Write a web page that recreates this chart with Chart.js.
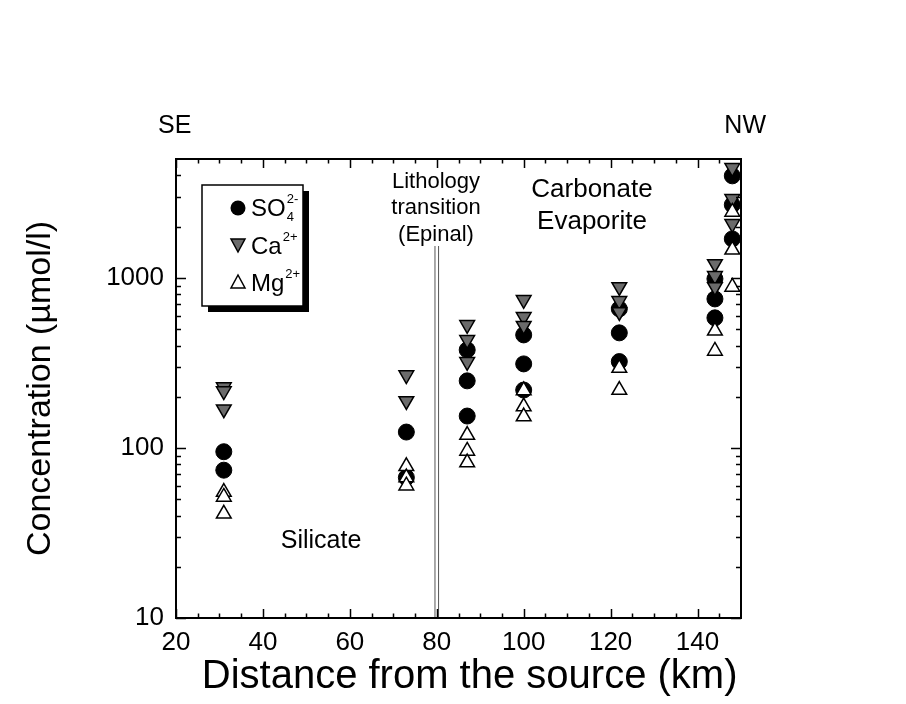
<!DOCTYPE html>
<html>
<head>
<meta charset="utf-8">
<script src="https://cdn.jsdelivr.net/npm/chart.js@4/dist/chart.umd.min.js"></script>
<style>
html,body{margin:0;padding:0;background:#ffffff;}
#wrap{width:906px;height:704px;}
</style>
</head>
<body>
<div id="wrap"><canvas id="c" width="906" height="704"></canvas></div>
<script>
// ---- data (distance from source in km, concentration in µmol/l) ----
const so4Distance = [31, 31, 73, 73, 87, 87, 87, 100, 100, 100, 122, 122, 122, 144, 144, 144, 148, 148, 148];
const so4Conc     = [95, 74, 124, 67, 377, 248, 154, 462, 312, 219, 657, 475, 322, 987, 752, 582, 3980, 2690, 1695];

const caDistance  = [31, 31, 31, 73, 73, 87, 87, 87, 100, 100, 100, 122, 122, 122, 144, 144, 144, 148, 148, 148];
const caConc      = [228, 216, 169, 268, 189, 530, 432, 321, 743, 590, 523, 885, 733, 631, 1208, 1028, 885, 4440, 2917, 2080];

const mgDistance  = [31, 31, 31, 73, 73, 73, 87, 87, 87, 100, 100, 100, 122, 122, 144, 144, 148, 148, 148];
const mgConc      = [55, 51.5, 41, 78, 67, 60, 119, 96, 82, 218, 175, 153, 295, 219, 488, 372, 2440, 1462, 885];

const xTickLabels = [20, 40, 60, 80, 100, 120, 140];
const xMinorTicks = [25, 30, 35, 45, 50, 55, 65, 70, 75, 85, 90, 95, 105, 110, 115, 125, 130, 135, 145];
const yTickLabels = [10, 100, 1000];
const yMinorTicks = [20, 30, 40, 50, 60, 70, 80, 90, 200, 300, 400, 500, 600, 700, 800, 900, 2000, 3000, 4000];

const transitionDistance = 80;

const FONT = '"Liberation Sans", Arial, Helvetica, sans-serif';

function pts(xs, ys) { return xs.map((x, i) => ({x: x, y: ys[i]})); }

const framePlugin = {
  id: 'frame',
  afterDatasetsDraw(chart) {
    const ctx = chart.ctx;
    const a = chart.chartArea;
    const xs = chart.scales.x, ys = chart.scales.y;
    ctx.save();
    // lithology transition double line
    const px = xs.getPixelForValue(transitionDistance);
    ctx.strokeStyle = '#555';
    ctx.lineWidth = 1;
    ctx.beginPath();
    ctx.moveTo(px - 1.8, 246); ctx.lineTo(px - 1.8, a.bottom);
    ctx.moveTo(px + 1.8, 246); ctx.lineTo(px + 1.8, a.bottom);
    ctx.stroke();

    // frame
    ctx.strokeStyle = '#000';
    ctx.lineWidth = 2;
    ctx.strokeRect(a.left, a.top, a.right - a.left, a.bottom - a.top);

    // inward ticks
    ctx.lineWidth = 1.5;
    ctx.beginPath();
    const xt = (v, len) => {
      const p = Math.round(xs.getPixelForValue(v)) + 0.5;
      ctx.moveTo(p, a.bottom); ctx.lineTo(p, a.bottom - len);
      ctx.moveTo(p, a.top); ctx.lineTo(p, a.top + len);
    };
    const yt = (v, len) => {
      const p = Math.round(ys.getPixelForValue(v)) + 0.5;
      ctx.moveTo(a.left, p); ctx.lineTo(a.left + len, p);
      ctx.moveTo(a.right, p); ctx.lineTo(a.right - len, p);
    };
    xTickLabels.forEach(v => xt(v, 9));
    xMinorTicks.forEach(v => xt(v, 4.5));
    yTickLabels.forEach(v => yt(v, 10));
    yMinorTicks.forEach(v => yt(v, 5));
    ctx.stroke();

    // annotations
    ctx.fillStyle = '#000';
    ctx.textBaseline = 'alphabetic';
    ctx.font = '25px ' + FONT;
    ctx.textAlign = 'left';
    ctx.fillText('SE', 158, 133);
    ctx.textAlign = 'right';
    ctx.fillText('NW', 766, 133);
    ctx.textAlign = 'center';
    ctx.font = '22px ' + FONT;
    ctx.fillText('Lithology', 436, 188);
    ctx.fillText('transition', 436, 214);
    ctx.fillText('(Epinal)', 436, 241);
    ctx.font = '26px ' + FONT;
    ctx.fillText('Carbonate', 592, 197);
    ctx.fillText('Evaporite', 592, 229);
    ctx.font = '25px ' + FONT;
    ctx.fillText('Silicate', 321, 548);

    // legend
    const bx = 202, by = 185, bw = 101, bh = 121, sh = 6;
    ctx.fillStyle = '#fff';
    ctx.fillRect(bx, by, bw, bh);
    ctx.fillStyle = '#000';
    ctx.fillRect(bx + bw, by + sh, sh, bh);
    ctx.fillRect(bx + sh, by + bh, bw, sh);
    ctx.lineWidth = 1.5;
    ctx.strokeRect(bx, by, bw, bh);

    const mx = 238, tx = 251;
    const rows = [
      {y: 208, base: 216, main: 'SO', sup: '2-', sub: '4', kind: 'circle'},
      {y: 245, base: 254, main: 'Ca', sup: '2+', sub: null, kind: 'down'},
      {y: 282, base: 291, main: 'Mg', sup: '2+', sub: null, kind: 'up'}
    ];
    rows.forEach(r => {
      ctx.lineWidth = 1.5;
      ctx.strokeStyle = '#000';
      if (r.kind === 'circle') {
        ctx.fillStyle = '#000';
        ctx.beginPath(); ctx.arc(mx, r.y, 7.5, 0, Math.PI * 2); ctx.fill();
      } else if (r.kind === 'down') {
        ctx.fillStyle = '#6b6b6b';
        ctx.beginPath();
        ctx.moveTo(mx - 7, r.y - 6); ctx.lineTo(mx + 7, r.y - 6); ctx.lineTo(mx, r.y + 7);
        ctx.closePath(); ctx.fill(); ctx.stroke();
      } else {
        ctx.fillStyle = '#fff';
        ctx.beginPath();
        ctx.moveTo(mx - 7, r.y + 6); ctx.lineTo(mx + 7, r.y + 6); ctx.lineTo(mx, r.y - 7);
        ctx.closePath(); ctx.fill(); ctx.stroke();
      }
      ctx.fillStyle = '#000';
      ctx.textAlign = 'left';
      ctx.font = '24px ' + FONT;
      ctx.fillText(r.main, tx, r.base);
      const w = ctx.measureText(r.main).width;
      ctx.font = '13px ' + FONT;
      ctx.fillText(r.sup, tx + w + 1, r.base - 13);
      if (r.sub) ctx.fillText(r.sub, tx + w + 1, r.base + 5);
    });
    ctx.restore();
  }
};

new Chart(document.getElementById('c'), {
  type: 'scatter',
  data: {
    datasets: [
      {
        label: 'Mg2+', data: pts(mgDistance, mgConc), order: 0,
        pointStyle: 'triangle', pointRadius: 8.5, pointHoverRadius: 8.5,
        backgroundColor: '#ffffff', borderColor: '#000000', borderWidth: 1.5, clip: false
      },
      {
        label: 'Ca2+', data: pts(caDistance, caConc), order: 1,
        pointStyle: 'triangle', rotation: 180, pointRadius: 8.5, pointHoverRadius: 8.5,
        backgroundColor: '#6b6b6b', borderColor: '#000000', borderWidth: 1.5, clip: false
      },
      {
        label: 'SO4 2-', data: pts(so4Distance, so4Conc), order: 2,
        pointStyle: 'circle', pointRadius: 8, pointHoverRadius: 8,
        backgroundColor: '#000000', borderColor: '#000000', borderWidth: 1, clip: false
      }
    ]
  },
  options: {
    responsive: false,
    devicePixelRatio: 1,
    animation: false,
    events: [],
    layout: {padding: {left: 0, top: 159, right: 165, bottom: 0}},
    plugins: {legend: {display: false}, tooltip: {enabled: false}},
    scales: {
      x: {
        type: 'linear', position: 'bottom', min: 20, max: 150,
        grid: {display: false, drawTicks: false}, border: {display: false},
        afterBuildTicks: s => { s.ticks = xTickLabels.map(v => ({value: v})); },
        afterFit: s => { s.height = 86; },
        ticks: {color: '#000', font: {family: FONT, size: 26}, padding: 9, autoSkip: false, maxRotation: 0},
        title: {display: true, text: '  Distance from the source (km)', color: '#000',
                font: {family: FONT, size: 40}, padding: {top: 0, bottom: 3}}
      },
      y: {
        type: 'logarithmic', position: 'left', min: 10, max: 5000,
        grid: {display: false, drawTicks: false}, border: {display: false},
        afterBuildTicks: s => { s.ticks = yTickLabels.map(v => ({value: v})); },
        afterFit: s => { s.width = 176; },
        ticks: {color: '#000', font: {family: FONT, size: 26}, padding: 12, autoSkip: false,
                callback: v => String(v)},
        title: {display: true, text: 'Concentration (µmol/l)', color: '#000',
                font: {family: FONT, size: 34}, padding: {top: 20, bottom: 0}}
      }
    }
  },
  plugins: [framePlugin]
});
</script>
</body>
</html>
